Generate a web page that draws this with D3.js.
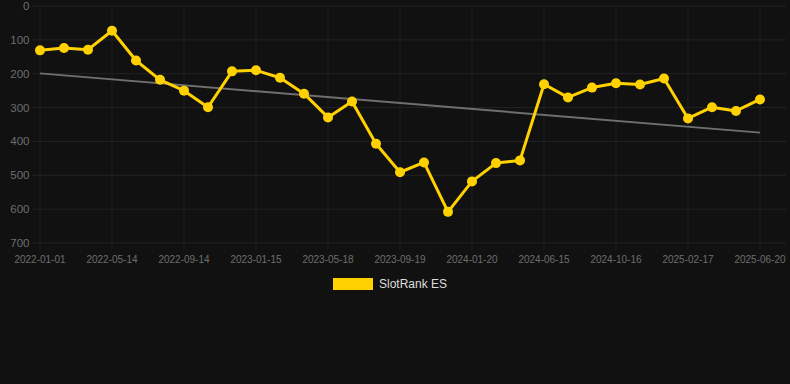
<!DOCTYPE html>
<html>
<head>
<meta charset="utf-8">
<script src="https://cdn.jsdelivr.net/npm/d3@7"></script>
<style>
  html, body { margin: 0; padding: 0; background: #111111; }
  svg { display: block; font-family: "Liberation Sans", Arial, sans-serif; }
</style>
</head>
<body>
<svg id="chart" width="790" height="384"></svg>
<script>
// category dates (only every 3rd one is labelled on the axis)
var dates = [
  "2022-01-01","2022-02-14","2022-03-30","2022-05-14","2022-06-24","2022-08-04",
  "2022-09-14","2022-10-25","2022-12-05","2023-01-15","2023-02-25","2023-04-07",
  "2023-05-18","2023-06-28","2023-08-08","2023-09-19","2023-10-30","2023-12-10",
  "2024-01-20","2024-03-08","2024-04-27","2024-06-15","2024-07-26","2024-09-05",
  "2024-10-16","2024-11-26","2025-01-06","2025-02-17","2025-03-30","2025-05-10",
  "2025-06-20"
]
// SlotRank ES position
var rank = [
  131,124,129,73,161,218,250,299,193,190,
  212,259,329,282,407,491,462,608,518,464,
  456,231,270,241,228,232,214,332,299,310,276
]
// trend line, first and last value
var trend = [199, 374]
var yTicks = [0,100,200,300,400,500,600,700]
var seriesName = "SlotRank ES"

var svg = d3.select("#chart")
var plotLeft = 40, plotRight = 760, plotTop = 6, plotBottom = 243

var x = d3.scalePoint().domain(dates).range([plotLeft, plotRight]).padding(0)
var y = d3.scaleLinear().domain([0, 700]).range([plotTop, plotBottom])

// horizontal grid
svg.append("g").selectAll("line")
  .data(yTicks).enter().append("line")
  .attr("x1", plotLeft - 8).attr("x2", 786)
  .attr("y1", function(d){ return y(d) }).attr("y2", function(d){ return y(d) })
  .attr("stroke", "#232323").attr("stroke-width", 1)

// vertical grid on labelled dates
var shown = dates.filter(function(d,i){ return i % 3 == 0 })
svg.append("g").selectAll("line")
  .data(shown).enter().append("line")
  .attr("x1", function(d){ return x(d) }).attr("x2", function(d){ return x(d) })
  .attr("y1", plotTop).attr("y2", plotBottom + 7)
  .attr("stroke", "#1f1f1f").attr("stroke-width", 1)

// y labels
svg.append("g").selectAll("text")
  .data(yTicks).enter().append("text")
  .attr("x", 29.5).attr("y", function(d){ return y(d) })
  .attr("dy", "0.35em").attr("text-anchor", "end")
  .attr("font-size", "11.5px").attr("fill", "#6e6e6e")
  .text(function(d){ return d })

// x labels
svg.append("g").selectAll("text")
  .data(shown).enter().append("text")
  .attr("x", function(d){ return x(d) }).attr("y", 259)
  .attr("dy", "0.35em").attr("text-anchor", "middle")
  .attr("font-size", "10px").attr("fill", "#6e6e6e")
  .text(function(d){ return d })

// trend
svg.append("line")
  .attr("x1", x(dates[0])).attr("x2", x(dates[dates.length-1]))
  .attr("y1", y(trend[0])).attr("y2", y(trend[1]))
  .attr("stroke", "#6f6f6f").attr("stroke-width", 2)

// series line
var line = d3.line()
  .x(function(d,i){ return x(dates[i]) })
  .y(function(d){ return y(d) })

svg.append("path")
  .datum(rank)
  .attr("d", line)
  .attr("fill", "none")
  .attr("stroke", "#FFD100")
  .attr("stroke-width", 3)
  .attr("stroke-linejoin", "round")

svg.append("g").selectAll("circle")
  .data(rank).enter().append("circle")
  .attr("cx", function(d,i){ return x(dates[i]) })
  .attr("cy", function(d){ return y(d) })
  .attr("r", 5)
  .attr("fill", "#FFD100")

// legend
svg.append("rect")
  .attr("x", 333).attr("y", 278).attr("width", 40).attr("height", 12)
  .attr("fill", "#FFD100")
svg.append("text")
  .attr("x", 379).attr("y", 284).attr("dy", "0.35em")
  .attr("font-size", "12px").attr("fill", "#dddddd")
  .text(seriesName)
</script>
</body>
</html>
